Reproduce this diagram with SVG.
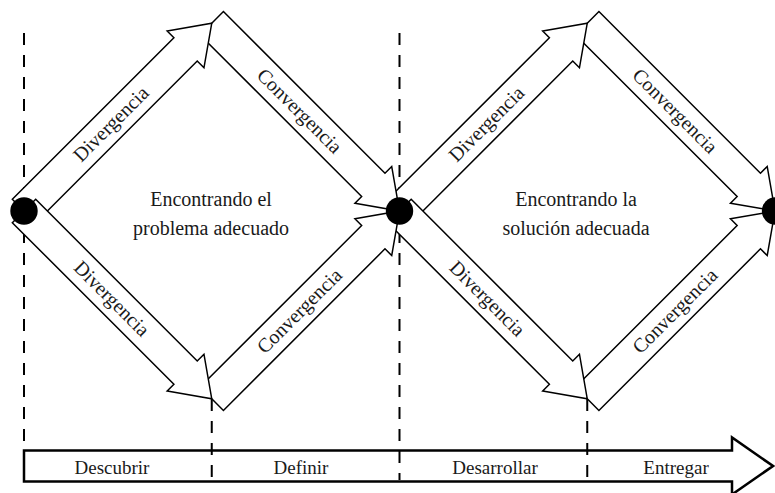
<svg xmlns="http://www.w3.org/2000/svg" width="775" height="493" viewBox="0 0 775 493">
  <style>
    .guide { fill: none; stroke: #000; stroke-width: 2; stroke-dasharray: 12 10; }
    .arrow { fill: #fff; stroke: #000; stroke-width: 1.5; stroke-linejoin: miter; }
    .bar { fill: #fff; stroke: #000; stroke-width: 2.5; stroke-linejoin: miter; }
    .dot { fill: #000; }
    .lbl { font-family: "Liberation Serif", "Times New Roman", serif; font-size: 20px; fill: #1a1a1a; text-anchor: middle; }
    .phase { font-size: 19px; }
  </style>
  <defs>
    <!-- block arrow pointing along +x, tail at origin, tip at the next vertex -->
    <path id="blk" d="M0,-16.5 H228.5 V-26 L265.5,0 L228.5,26 V16.5 H0 Z"/>
  </defs>

  <!-- timeline bar -->
  <g id="timeline">
    <path class="bar" d="M24,450.5 H732 V437.5 L773,466 L732,494.5 V481.5 H24 Z"/>
    <text class="lbl phase" x="112" y="474">Descubrir</text>
    <text class="lbl phase" x="301" y="474">Definir</text>
    <text class="lbl phase" x="495" y="474">Desarrollar</text>
    <text class="lbl phase" x="676" y="474">Entregar</text>
  </g>

  <!-- phase boundaries -->
  <g id="guides">
    <line class="guide" x1="24" y1="33" x2="24" y2="450"/>
    <line class="guide" x1="211.75" y1="399" x2="211.75" y2="480"/>
    <line class="guide" x1="399.5" y1="33" x2="399.5" y2="480"/>
    <line class="guide" x1="587.25" y1="399" x2="587.25" y2="480"/>
  </g>

  <g id="connectors">
    <!-- second diamond -->
    <g id="d2-conv-up" transform="translate(587.25,23.25) rotate(45)">
      <use href="#blk" class="arrow"/>
      <text class="lbl" x="124" y="6.5">Convergencia</text>
    </g>
    <g id="d2-conv-low" transform="translate(587.25,398.75) rotate(-45)">
      <use href="#blk" class="arrow"/>
      <text class="lbl" x="124" y="6.5">Convergencia</text>
    </g>
    <g id="d2-div-up" transform="translate(399.5,211) rotate(-45)">
      <use href="#blk" class="arrow"/>
      <text class="lbl" x="123" y="6.5">Divergencia</text>
    </g>
    <g id="d2-div-low" transform="translate(399.5,211) rotate(45)">
      <use href="#blk" class="arrow"/>
      <text class="lbl" x="124" y="6.5">Divergencia</text>
    </g>

    <!-- first diamond -->
    <g id="d1-conv-up" transform="translate(211.75,23.25) rotate(45)">
      <use href="#blk" class="arrow"/>
      <text class="lbl" x="124" y="6.5">Convergencia</text>
    </g>
    <g id="d1-conv-low" transform="translate(211.75,398.75) rotate(-45)">
      <use href="#blk" class="arrow"/>
      <text class="lbl" x="124" y="6.5">Convergencia</text>
    </g>
    <g id="d1-div-up" transform="translate(24,211) rotate(-45)">
      <use href="#blk" class="arrow"/>
      <text class="lbl" x="123" y="6.5">Divergencia</text>
    </g>
    <g id="d1-div-low" transform="translate(24,211) rotate(45)">
      <use href="#blk" class="arrow"/>
      <text class="lbl" x="124" y="6.5">Divergencia</text>
    </g>
  </g>

  <!-- milestones -->
  <g id="start"><circle class="dot" cx="24" cy="211" r="13.7"/></g>
  <g id="middle"><circle class="dot" cx="399.5" cy="211" r="13.7"/></g>
  <g id="end"><circle class="dot" cx="775.5" cy="211" r="13.7"/></g>

  <g id="problem">
    <text class="lbl" x="211" y="206">Encontrando el</text>
    <text class="lbl" x="211" y="234.5">problema adecuado</text>
  </g>
  <g id="solution">
    <text class="lbl" x="576" y="206">Encontrando la</text>
    <text class="lbl" x="576" y="234.5">solución adecuada</text>
  </g>
</svg>
